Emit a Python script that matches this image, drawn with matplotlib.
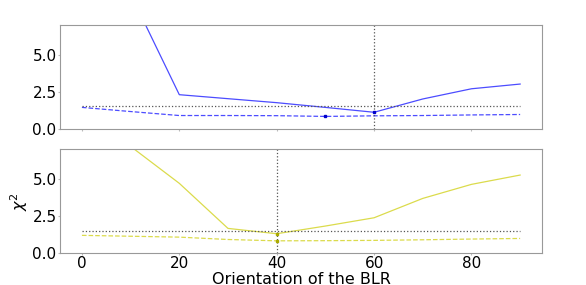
import matplotlib
matplotlib.use("Agg")
import matplotlib.pyplot as plt

orient = [0, 10, 20, 30, 40, 50, 60, 70, 80, 90]
top_solid = [15.0, 9.1, 2.29, 2.02, 1.75, 1.43, 1.10, 2.00, 2.69, 3.01]
top_dashed = [1.43, 1.15, 0.88, 0.88, 0.87, 0.82, 0.86, 0.88, 0.92, 0.95]
bot_solid = [9.7, 7.2, 4.70, 1.65, 1.29, 1.81, 2.37, 3.68, 4.63, 5.26]
bot_dashed = [1.18, 1.12, 1.06, 0.90, 0.81, 0.82, 0.84, 0.88, 0.93, 0.97]
threshold = 1.5
top_best = 60
bot_best = 40

fig = plt.figure(figsize=(5.86, 2.85), dpi=100)
ax1 = fig.add_axes([0.1024, 0.549, 0.8226, 0.363])
ax2 = fig.add_axes([0.1024, 0.113, 0.8226, 0.363])

def style(ax):
    for s in ax.spines.values():
        s.set_color('#999999')
    ax.tick_params(colors='#bbbbbb', labelcolor='black', labelsize=11,
                   length=1.5, pad=1)
    ax.set_ylim(0, 7)
    ax.set_yticks([0, 2.5, 5.0])
    ax.set_xlim(-4.5, 94.5)
    ax.set_xticks([0, 20, 40, 60, 80])

def draw(ax, solid, dashed, color, mcolor, best):
    ax.plot(orient, solid, '-', color=color, lw=0.9, alpha=0.7)
    ax.plot(orient, dashed, '--', color=color, lw=0.9, alpha=0.7)
    ax.plot([orient[0], orient[-1]], [threshold, threshold], ':', color='#555555', lw=0.9)
    ax.axvline(best, color='#555555', ls=':', lw=0.9)
    i = solid.index(min(solid))
    ax.plot([orient[i]], [solid[i]], 's', color=mcolor, ms=2)
    j = dashed.index(min(dashed))
    ax.plot([orient[j]], [dashed[j]], 's', color=mcolor, ms=2)
    style(ax)

draw(ax1, top_solid, top_dashed, 'blue', '#0000cc', top_best)
draw(ax2, bot_solid, bot_dashed, '#cccc00', '#aaaa00', bot_best)
ax1.set_xticklabels([])
ax2.set_xlabel('Orientation of the BLR', fontsize=11.5, labelpad=0.5)
ax2.set_ylabel(r'$\chi^2$', fontsize=11.5, labelpad=1.5)

fig.savefig('out.png', dpi=100)
